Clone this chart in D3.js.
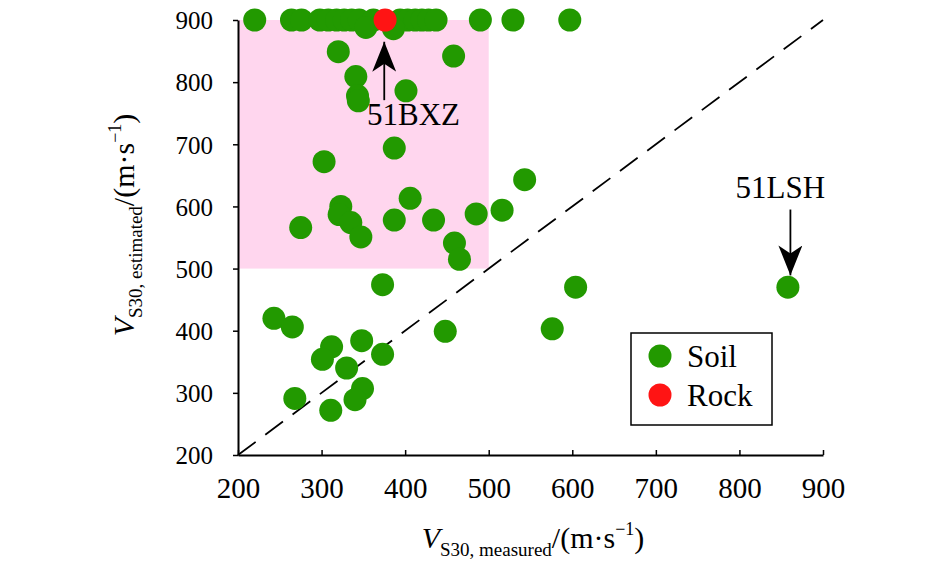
<!DOCTYPE html>
<html>
<head>
<meta charset="utf-8">
<script src="https://cdn.jsdelivr.net/npm/d3@7"></script>
<style>
  body { margin: 0; background: #fff; }
  text { font-family: "Liberation Serif", "Times New Roman", serif; fill: #000; }
</style>
</head>
<body>
<div id="chart"></div>
<script>
// measured vs estimated Vs30, soil sites
var soilX = [220, 264, 276, 298, 308, 318, 327, 336, 345, 362, 394, 403, 412, 420, 428, 437, 490, 529, 597,
    353, 386,
    320, 458, 341, 343, 344, 401,
    303, 387, 543, 406, 323, 321, 335, 347, 275, 387, 434, 485, 516, 459, 465,
    373, 604, 858, 243, 265, 448, 576, 312, 348, 301, 373, 330, 349, 340, 268, 311];
var soilY = [900, 900, 900, 900, 900, 900, 900, 900, 900, 900, 900, 900, 900, 900, 900, 900, 900, 900, 900,
    888, 886,
    849, 842, 809, 778, 770, 786,
    672, 694, 643, 613, 600, 587, 574, 551, 566, 578, 578, 588, 594, 541, 515,
    474, 470, 470, 420, 406, 399, 403, 374, 384, 354, 362, 340, 307, 289, 291, 272];
// rock site
var rockX = [376];
var rockY = [900];

var tickValues = [200, 300, 400, 500, 600, 700, 800, 900];
var seriesNames = ["Soil", "Rock"];
var seriesColors = ["#229900", "#ff1414"];

const width = 945;
const height = 567;
const serif = '"Liberation Serif", "Times New Roman", serif';

const svg = d3.select("#chart")
    .append("svg")
    .attr("width", width)
    .attr("height", height);

const x = d3.scaleLinear().domain([200, 900]).range([238, 823]);
const y = d3.scaleLinear().domain([200, 900]).range([455, 20]);

// pink region
svg.append("rect")
    .attr("x", x(200))
    .attr("y", y(900))
    .attr("width", x(500) - x(200))
    .attr("height", y(500) - y(900))
    .attr("fill", "#ffd6ee");

// 1:1 line
svg.append("line")
    .attr("x1", x(200)).attr("y1", y(200))
    .attr("x2", x(900)).attr("y2", y(900))
    .attr("stroke", "#000")
    .attr("stroke-width", 1.8)
    .attr("stroke-dasharray", "22,12");

// axes
const xAxis = svg.append("g")
    .attr("transform", `translate(0, ${y(200)})`)
    .call(d3.axisBottom(x).tickValues(tickValues).tickSize(-5).tickSizeOuter(0).tickPadding(22));
const yAxis = svg.append("g")
    .attr("transform", `translate(${x(200)}, 0)`)
    .call(d3.axisLeft(y).tickValues(tickValues).tickSize(5).tickSizeOuter(0).tickPadding(20));

[xAxis, yAxis].forEach(function (g) {
    g.attr("font-family", null);
    g.select(".domain").attr("stroke-width", 2);
    g.selectAll(".tick line").attr("stroke-width", 1.5);
    g.selectAll(".tick text")
        .style("font-family", serif)
        .attr("fill", "#000");
});
xAxis.selectAll(".tick text").style("font-size", "29px").attr("dy", "0.71em");
yAxis.selectAll(".tick text").style("font-size", "25px").attr("dy", "0.35em");

// points
const r = 11.5;
svg.append("g").selectAll("circle")
    .data(soilX.map((d, i) => [d, soilY[i]]))
    .enter().append("circle")
    .attr("cx", d => x(d[0]))
    .attr("cy", d => y(d[1]))
    .attr("r", r)
    .attr("fill", seriesColors[0]);

svg.append("g").selectAll("circle")
    .data(rockX.map((d, i) => [d, rockY[i]]))
    .enter().append("circle")
    .attr("cx", d => x(d[0]))
    .attr("cy", d => y(d[1]))
    .attr("r", r)
    .attr("fill", seriesColors[1]);

// arrows with labels
svg.append("defs").append("marker")
    .attr("id", "head")
    .attr("viewBox", "0 0 30 24")
    .attr("refX", 30).attr("refY", 12)
    .attr("markerWidth", 30).attr("markerHeight", 24)
    .attr("markerUnits", "userSpaceOnUse")
    .attr("orient", "auto")
    .append("path")
    .attr("d", "M0,0 L30,12 L0,24 L8,12 Z")
    .attr("fill", "#000");

function annotate(x0, y0, x1, y1, tx, ty, label) {
    svg.append("line")
        .attr("x1", x(x0)).attr("y1", y(y0))
        .attr("x2", x(x1)).attr("y2", y(y1))
        .attr("stroke", "#000")
        .attr("stroke-width", 1.8)
        .attr("marker-end", "url(#head)");
    svg.append("text")
        .attr("x", x(tx)).attr("y", y(ty))
        .attr("text-anchor", "middle")
        .style("font-size", "31px")
        .text(label);
}
annotate(375, 771, 375, 865, 410, 731, "51BXZ");
annotate(861, 595, 861, 489, 849, 614, "51LSH");

// axis titles
function title(t, sub) {
    t.append("tspan").style("font-style", "italic").style("font-size", "30px").text("V");
    t.append("tspan").style("font-size", "19px").attr("dy", 8).text(sub);
    t.append("tspan").style("font-size", "30px").attr("dy", -8).text("/(m\u00b7s");
    t.append("tspan").style("font-size", "18px").attr("dy", -13).text("\u22121");
    t.append("tspan").style("font-size", "30px").attr("dy", 13).text(")");
}
const xt = svg.append("text")
    .attr("x", 533).attr("y", 548)
    .attr("text-anchor", "middle");
title(xt, "S30, measured");

const yt = svg.append("text")
    .attr("transform", "translate(134, 225) rotate(-90)")
    .attr("text-anchor", "middle");
title(yt, "S30, estimated");

// legend
const legend = svg.append("g").attr("transform", "translate(631, 333)");
legend.append("rect")
    .attr("width", 141).attr("height", 92)
    .attr("fill", "#fff")
    .attr("stroke", "#000")
    .attr("stroke-width", 1.5);
const items = legend.selectAll(".item")
    .data(seriesNames)
    .enter().append("g")
    .attr("transform", (d, i) => `translate(0, ${23 + i * 39})`);
items.append("circle")
    .attr("cx", 29).attr("r", 11.5)
    .attr("fill", (d, i) => seriesColors[i]);
items.append("text")
    .attr("x", 56).attr("dy", "0.35em")
    .style("font-size", "31px")
    .text(d => d);
</script>
</body>
</html>
